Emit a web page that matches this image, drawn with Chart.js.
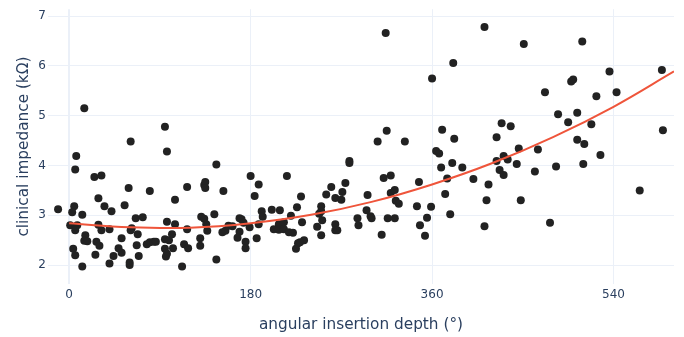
<!DOCTYPE html>
<html>
<head>
<meta charset="utf-8">
<script src="https://cdn.jsdelivr.net/npm/chart.js@4/dist/chart.umd.min.js"></script>
<style>
  html, body { margin: 0; padding: 0; background: #fff; }
  #wrap { width: 684px; height: 337px; }
</style>
</head>
<body>
<div id="wrap"><canvas id="main" width="684" height="337"></canvas></div>
<script>
// measured points: angular insertion depth (deg) and impedance (kOhm)
const depth = [
  -11, 15, 61, 7, 6, 25, 32, 59, 80, 29, 5, 35, 55, 3, 13, 42, 66, 73, 1, 8,
  6, 29, 32, 40, 62, 61, 68, 16, 15, 18, 27, 30, 52, 49, 52, 67, 77, 80, 84, 4,
  6, 26, 44, 69, 13, 40, 60, 60,
  95, 97, 146, 180, 188, 117, 134, 135, 135, 153, 105, 184, 191, 144, 131, 134, 97, 105, 136, 169,
  171, 173, 158, 162, 179, 188, 192, 117, 137, 152, 155, 169, 86, 95, 99, 102, 95, 103, 97, 96,
  114, 118, 130, 130, 146, 112, 167, 175, 175, 186,
  278, 278, 216, 230, 260, 255, 264, 271, 270, 274, 296, 295, 201, 209, 226, 250, 250, 248, 220, 208,
  213, 231, 251, 246, 250, 264, 264, 266, 286, 287, 203, 208, 213, 218, 222, 227, 225, 233, 229,
  314, 381, 360, 315, 306, 333, 370, 382, 364, 367, 369, 380, 390, 401, 375, 373, 378, 312, 319, 347,
  319, 323, 324, 327, 299, 300, 316, 323, 345, 359, 355, 348, 353, 310,
  412, 451, 500, 498, 472, 485, 504, 495, 429, 438, 424, 504, 446, 465, 431, 435, 424, 444, 483, 462,
  427, 431, 416, 414, 448, 412, 477,
  509, 536, 588, 543, 523, 518, 511, 527, 510, 589, 566
]
const impedance = [
  3.12, 5.15, 4.48, 4.19, 3.92, 3.77, 3.80, 3.55, 3.49, 3.34, 3.18, 3.18, 3.20, 3.06, 3.01, 3.08, 2.94, 2.96, 2.80, 2.80,
  2.70, 2.81, 2.70, 2.72, 2.74, 2.70, 2.62, 2.60, 2.49, 2.48, 2.47, 2.39, 2.54, 2.34, 2.25, 2.40, 2.42, 2.46, 2.47, 2.33,
  2.20, 2.21, 2.18, 2.18, 1.97, 2.03, 2.00, 2.05,
  4.78, 4.28, 4.02, 3.79, 3.62, 3.57, 3.61, 3.67, 3.55, 3.49, 3.31, 3.39, 3.08, 3.02, 2.97, 2.93, 2.87, 2.82, 2.82, 2.94,
  2.92, 2.85, 2.79, 2.78, 2.76, 2.82, 2.97, 2.72, 2.69, 2.66, 2.69, 2.67, 2.47, 2.52, 2.50, 2.62, 2.33, 2.34, 2.23, 2.17,
  2.42, 2.34, 2.54, 2.39, 2.11, 1.97, 2.55, 2.47, 2.34, 2.54,
  4.09, 4.05, 3.79, 3.38, 3.57, 3.42, 3.35, 3.47, 3.31, 3.65, 3.41, 3.10, 3.11, 3.10, 3.16, 3.18, 3.08, 3.03, 2.99, 2.82,
  2.86, 2.86, 2.90, 2.77, 2.60, 2.82, 2.70, 2.70, 2.94, 2.80, 2.72, 2.71, 2.72, 2.66, 2.65, 2.44, 2.33, 2.50, 2.46,
  6.66, 6.06, 5.75, 4.70, 4.48, 4.48, 4.72, 4.54, 4.29, 4.24, 3.96, 4.05, 3.96, 3.73, 3.74, 3.43, 3.02, 3.75, 3.80, 3.67,
  3.45, 3.51, 3.29, 3.23, 2.98, 2.94, 2.94, 2.94, 3.18, 3.17, 2.95, 2.80, 2.59, 2.61,
  6.78, 6.44, 5.73, 5.69, 5.47, 5.03, 5.06, 4.87, 4.85, 4.79, 4.57, 4.52, 4.34, 4.32, 4.19, 4.12, 4.09, 4.03, 3.98, 3.88,
  3.91, 3.81, 3.62, 3.30, 3.30, 2.78, 2.85,
  6.49, 5.89, 5.92, 5.47, 5.39, 4.83, 4.43, 4.21, 4.03, 4.71, 3.50
]

// trend curve
const fitDepth = [0, 60, 120, 180, 240, 300, 360, 420, 480, 540, 600]
const fitImpedance = [2.84, 2.76, 2.75, 2.84, 3.01, 3.27, 3.62, 4.05, 4.57, 5.18, 5.89]

const xTicks = [0, 180, 360, 540]
const yTicks = [2, 3, 4, 5, 6, 7]

const textColor = '#2a3f5f'
const gridColor = '#ebf0f8'

const canvas = document.querySelector('#main')
const ctx = canvas.getContext('2d')

Chart.defaults.font.family = '"DejaVu Sans", Verdana, sans-serif'
Chart.defaults.color = textColor

let chart = new Chart(ctx, {
    type: 'scatter',
    data: {
        datasets: [{
            label: 'fit',
            data: fitDepth.map((x, i) => ({ x: x, y: fitImpedance[i] })),
            showLine: true,
            borderColor: '#ef553b',
            borderWidth: 2,
            pointRadius: 0,
            tension: 0.4,
            fill: false
        }, {
            label: 'measurements',
            data: depth.map((x, i) => ({ x: x, y: impedance[i] })),
            backgroundColor: '#222222',
            borderColor: '#222222',
            borderWidth: 0,
            pointRadius: 4
        }]
    },
    options: {
        responsive: false,
        animation: false,
        layout: { padding: { top: 9, right: 10, left: 0, bottom: 0 } },
        plugins: {
            legend: { display: false },
            tooltip: { enabled: false }
        },
        scales: {
            x: {
                type: 'linear',
                min: -21,
                max: 600,
                afterFit: s => { s.height = 53 },
                afterBuildTicks: s => { s.ticks = xTicks.map(v => ({ value: v })) },
                grid: {
                    color: gridColor,
                    lineWidth: c => (c.tick && c.tick.value === 0 ? 2 : 1),
                    drawTicks: false
                },
                border: { display: false },
                ticks: { padding: 4, font: { size: 12 }, color: textColor },
                title: {
                    display: true,
                    text: 'angular insertion depth (°)',
                    font: { size: 15.3 },
                    color: textColor,
                    padding: { top: 0, bottom: 3 }
                }
            },
            y: {
                min: 1.62,
                max: 7.14,
                afterFit: s => { s.width = 48 },
                afterBuildTicks: s => { s.ticks = yTicks.map(v => ({ value: v })) },
                grid: { color: gridColor, drawTicks: false },
                border: { display: false },
                ticks: { padding: 2, font: { size: 12 }, color: textColor },
                title: {
                    display: true,
                    text: 'clinical impedance (kΩ)',
                    font: { size: 15.3 },
                    color: textColor,
                    padding: { top: 15, bottom: 0 }
                }
            }
        }
    }
})
</script>
</body>
</html>
